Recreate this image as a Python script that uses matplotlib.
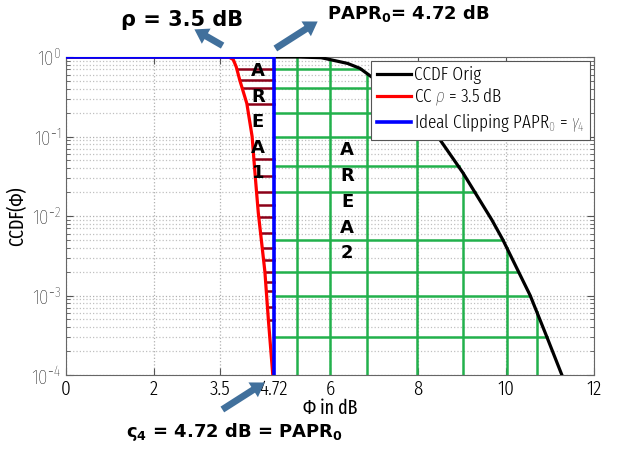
import numpy as np
import matplotlib
matplotlib.use("Agg")
import matplotlib.pyplot as plt
from matplotlib import font_manager as fm

# ---------------- data ----------------
orig_x = [0, 5.3, 5.8, 6.07, 6.4, 6.68, 7.09, 7.3, 7.9, 8.5, 9.02, 9.68, 9.93, 10.55, 10.93, 11.27]
orig_y = [1, 1, 0.98, 0.91, 0.83, 0.72, 0.49, 0.42, 0.2, 0.091, 0.035, 0.0089, 0.005, 0.001, 0.0003, 0.0001]

cc_x = [0, 3.7, 3.8, 3.87, 3.95, 4.11, 4.23, 4.30, 4.37, 4.52, 4.60, 4.70]
cc_y = [1, 1, 0.93, 0.75, 0.51, 0.26, 0.1, 0.032, 0.011, 0.002, 0.00049, 0.0001]

ideal_x = [0, 4.72, 4.72]
ideal_y = [1, 1, 0.0001]

area1_levels = [0.7, 0.51, 0.41, 0.26, 0.052, 0.032, 0.02, 0.0138, 0.0098, 0.0062,
                0.004, 0.0028, 0.002, 0.0015, 0.00115, 0.00072, 0.00049]
area2_h_levels = [0.7, 0.41, 0.2, 0.1, 0.042, 0.02, 0.005, 0.002, 0.001, 0.0003]
area2_v_pos = [5.25, 6.0, 6.85, 7.98, 9.03, 10.02, 10.7]

papr0 = 4.72
xticks = [0, 2, 3.5, 4.72, 6, 8, 10, 12]
xticklabels = ["0", "2", "3.5", "4.72", "6", "8", "10", "12"]
yexp = [-4, -3, -2, -1, 0]

# ---------------- fonts ----------------
names = {f.name for f in fm.fontManager.ttflist}
narrow = "DejaVu Sans"
for cand in ["Fira Sans Extra Condensed", "PT Sans Narrow", "Roboto Condensed", "Archivo Narrow"]:
    if cand in names:
        narrow = cand
        break
plt.rcParams["font.family"] = [narrow, "DejaVu Sans"]
plt.rcParams["font.weight"] = 300
plt.rcParams["mathtext.fontset"] = "custom"
plt.rcParams["mathtext.rm"] = narrow + ":light"
plt.rcParams["mathtext.it"] = narrow + ":italic:light"
plt.rcParams["mathtext.bf"] = "DejaVu Sans:bold"

fig = plt.figure(figsize=(6.17, 4.49), dpi=100)
ax = fig.add_axes([66/617, 1-375/449, (594-66)/617, (375-57)/449])

GREEN = "#22b14c"
DARKRED = "#8b0018"

lo = np.log10
ox = np.array(orig_x); oy = lo(np.array(orig_y))
cx = np.array(cc_x); cy = lo(np.array(cc_y))

for lev in area2_h_levels:
    xe = np.interp(lo(lev), oy[::-1], ox[::-1])
    ax.plot([papr0, xe], [lev, lev], color=GREEN, lw=1.8, zorder=2)
for xv in area2_v_pos:
    ye = 10 ** np.interp(xv, ox, oy)
    ax.plot([xv, xv], [1e-4, ye], color=GREEN, lw=1.8, zorder=2)

for lev in area1_levels:
    xs = np.interp(lo(lev), cy[::-1], cx[::-1])
    ax.plot([xs, papr0], [lev, lev], color=DARKRED, lw=1.8, zorder=2)

l1, = ax.plot(orig_x, orig_y, color="black", lw=2.3, zorder=4, label="CCDF Orig")
l2, = ax.plot(cc_x, cc_y, color="red", lw=2.3, zorder=4, label=r"CC $\rho$ = 3.5 dB")
l3, = ax.plot(ideal_x, ideal_y, color="blue", lw=2.6, zorder=5,
              label=r"Ideal Clipping PAPR$_0$ = $\gamma_4$")

ax.set_yscale("log")
ax.set_xlim(0, 12)
ax.set_ylim(1e-4, 1)
ax.set_xticks(xticks)
ax.set_xticklabels(xticklabels)
ax.set_yticks([10.0 ** k for k in yexp])
ax.set_yticklabels([r"$10^{%d}$" % k for k in yexp])
ax.tick_params(axis="both", which="both", direction="in", top=True, right=True,
               labelsize=15, colors="#555555", labelcolor="black")
ax.tick_params(axis="both", which="major", length=5)
ax.tick_params(axis="x", which="major", pad=3)
ax.tick_params(axis="y", which="minor", length=3)
ax.grid(True, which="major", color="#b0b0b0", linestyle=":", lw=0.9)
ax.grid(True, which="minor", axis="y", color="#c0c0c0", linestyle=":", lw=0.9)
for s in ax.spines.values():
    s.set_color("#666666")
ax.set_xlabel("Φ in dB", fontsize=14, labelpad=0)
ax.set_ylabel("CCDF(Φ)", fontsize=14, labelpad=3)

leg = ax.legend(handles=[l1, l2, l3], loc="upper right", fontsize=13.5,
                fancybox=False, framealpha=1, edgecolor="#555555",
                borderaxespad=0.2, labelspacing=0.15, handlelength=1.8,
                handletextpad=0.15, borderpad=0.3)
leg.get_frame().set_linewidth(0.8)
leg.set_zorder(10)

for i, ch in enumerate("AREA1"):
    ax.text(4.36, 10 ** (-0.18 - 0.32 * i), ch, fontsize=13, fontweight="bold",
            family="DejaVu Sans", ha="center", va="center", zorder=6)
for i, ch in enumerate("AREA2"):
    ax.text(6.39, 10 ** (-1.17 - 0.325 * i), ch, fontsize=13, fontweight="bold",
            family="DejaVu Sans", ha="center", va="center", zorder=6)

ARW = "#41709c"
style = "simple,head_width=0.9,head_length=0.7,tail_width=0.35"
for tail, head in [((225, 402), (192, 421)), ((273, 399), (320, 429)), ((220, 38), (267, 68))]:
    fig.add_artist(matplotlib.patches.FancyArrowPatch(
        tail, head, transform=None, arrowstyle=style, mutation_scale=14,
        color=ARW, lw=0))

fig.text(182, 429, r"ρ = 3.5 dB", transform=None, fontsize=15, fontweight="bold",
         family="DejaVu Sans", ha="center", va="center")
fig.text(408, 436, r"PAPR$_\mathbf{0}$= 4.72 dB", transform=None, fontsize=13,
         fontweight="bold", family="DejaVu Sans", ha="center", va="center")
fig.text(235, 17, r"ς$_\mathbf{4}$ = 4.72 dB = PAPR$_\mathbf{0}$", transform=None,
         fontsize=13, fontweight="bold", family="DejaVu Sans",
         ha="center", va="center")

fig.savefig("out.png", dpi=100)
